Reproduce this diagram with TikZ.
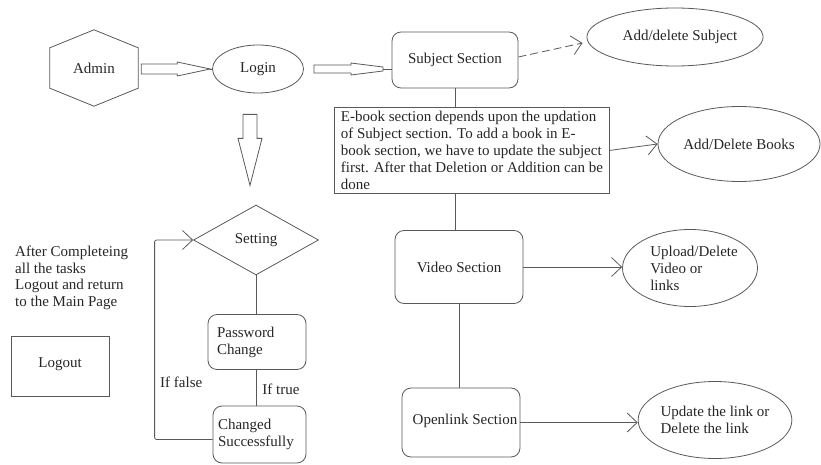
\documentclass[tikz,border=0pt]{standalone}
\usepackage{fontspec}
\setmainfont{Liberation Serif}
\usetikzlibrary{shapes.geometric,arrows.meta}
\begin{document}
\begin{tikzpicture}[x=1pt,y=-1pt,
  every node/.style={font=\fontsize{15}{17}\selectfont, text=black!85},
  stroke/.style={draw=black!65, line width=0.8pt},
  rbox/.style={stroke, rounded corners=9pt, inner sep=0pt},
  oval/.style={stroke, ellipse, inner sep=0pt},
  barb/.style={-{Straight Barb[length=10pt,width=19pt,line width=0.8pt]}},
  hollow/.style={stroke, line join=miter}
]
\useasboundingbox (0,0) rectangle (821,465);

% ---- left column: admin, login, settings ----
\node[minimum width=88pt, minimum height=76pt] (admin) at (94,68) {Admin};
\draw[stroke] (admin.north) -- ([yshift=-18pt]admin.north east)
  -- ([yshift=18pt]admin.south east) -- (admin.south)
  -- ([yshift=18pt]admin.south west) -- ([yshift=-18pt]admin.north west) -- cycle;

\node[oval, minimum width=91pt, minimum height=48pt] (login) at (258,69) {Login};

\node[stroke, diamond, inner sep=0pt, minimum width=125pt, minimum height=70pt]
  (setting) at (256,240) {Setting};

\node[rbox, minimum width=98pt, minimum height=55pt, text width=80pt,
  inner xsep=9pt, align=left] (password) at (257,342) {Password\\Change};

\node[rbox, minimum width=93pt, minimum height=57pt, text width=83pt,
  inner xsep=5pt, align=left] (changed) at (259.5,434.5) {Changed\\Successfully};

\node[anchor=north west, align=left, inner sep=0pt,
  font=\fontsize{15}{16.5}\selectfont] (note) at (15,246)
  {After Completeing\\all the tasks\\Logout and return\\to the Main Page};

\node[stroke, minimum width=98pt, minimum height=60pt] (logout) at (60,366)
  {\raisebox{6pt}{Logout}\hspace{11pt}};

% ---- right column: sections and actions ----
\node[rbox, minimum width=126pt, minimum height=56pt] (subject) at (455,60)
  {\raisebox{3pt}{Subject Section}};

\node[oval, minimum width=134pt, minimum height=58pt] (addsub) at (675,37)
  {\hspace{10pt}Add/delete Subject};

\node[stroke, minimum width=275pt, minimum height=86pt, inner sep=0pt,
  align=left, anchor=north west] (ebook) at (334,107)
  {E-book section depends upon the updation\\
   of Subject section. To add a book in E-\\
   book section, we have to update the subject\\
   first. After that Deletion or Addition can be\\
   done};

\node[oval, minimum width=162pt, minimum height=75pt] (books) at (739,144)
  {Add/Delete Books};

\node[rbox, minimum width=128pt, minimum height=73pt] (video) at (459,267)
  {Video Section};

\node[oval, minimum width=132pt, minimum height=77pt, align=left] (upload)
  at (690,268) {\hspace{8pt}Upload/Delete\\\hspace{8pt}Video or\\\hspace{8pt}links};

\node[rbox, minimum width=118pt, minimum height=69pt] (openlink) at (461,422.5)
  {\raisebox{7pt}{\hspace{8pt}Openlink Section}};

\node[oval, minimum width=126pt, minimum height=77pt, align=left] (update)
  at (715,420) {Update the link or\\Delete the link};

% ---- hollow block arrows ----
\draw[hollow] ([shift={(3,-4)}]admin.east) -- ++(36,0) -- ++(0,-2)
  -- ++(33,7) coordinate (t1) -- ++(-33,7) -- ++(0,-2) -- ++(-36,0) -- cycle;
\draw[stroke] (t1) -- (login.west);

\draw[hollow] ([shift={(10,-4)}]login.east) -- ++(37,0) -- ++(0,-2)
  -- ++(32,4) -- ++(0,4) coordinate (t2) -- ++(-32,4) -- ++(0,-2) -- ++(-37,0) -- cycle;
\draw[stroke] ([yshift=2pt]t2) -- ([yshift=2pt]t2 -| subject.west);

\draw[hollow] ([shift={(-15,21)}]login.south) -- ++(14,0) -- ++(0,24) -- ++(5,0)
  -- ++(-12,47) -- ++(-12,-47) -- ++(5,0) -- cycle;

% ---- connectors ----
\draw[stroke, dash pattern=on 8pt off 4pt, barb] ([yshift=3pt]subject.east)
  -- ([shift={(-4,6)}]addsub.west);
\draw[stroke] (subject.south) -- (subject.south |- ebook.north);
\draw[stroke, barb] (ebook.east) -- (books.west);
\draw[stroke] (ebook.south -| subject.south) -- (video.north -| subject.south);
\draw[stroke, barb] (video.east) -- (video.east -| upload.west);
\draw[stroke] (video.south) -- (video.south |- openlink.north);
\draw[stroke, barb] (openlink.east) -- (openlink.east -| update.west);

\draw[stroke] (setting.south) -- (setting.south |- password.north);
\draw[stroke] (password.south -| setting.south) -- (changed.north -| setting.south)
  node[midway, right, xshift=6pt, yshift=-2pt, inner sep=0pt] (iftrue) {If true};
\draw[stroke, barb, rounded corners=2pt] ([yshift=-5pt]changed.west) -- ++(-58,0)
  |- (setting.west);
\node[anchor=west, inner sep=0pt] (iffalse) at (160,382) {If false};
\end{tikzpicture}
\end{document}
